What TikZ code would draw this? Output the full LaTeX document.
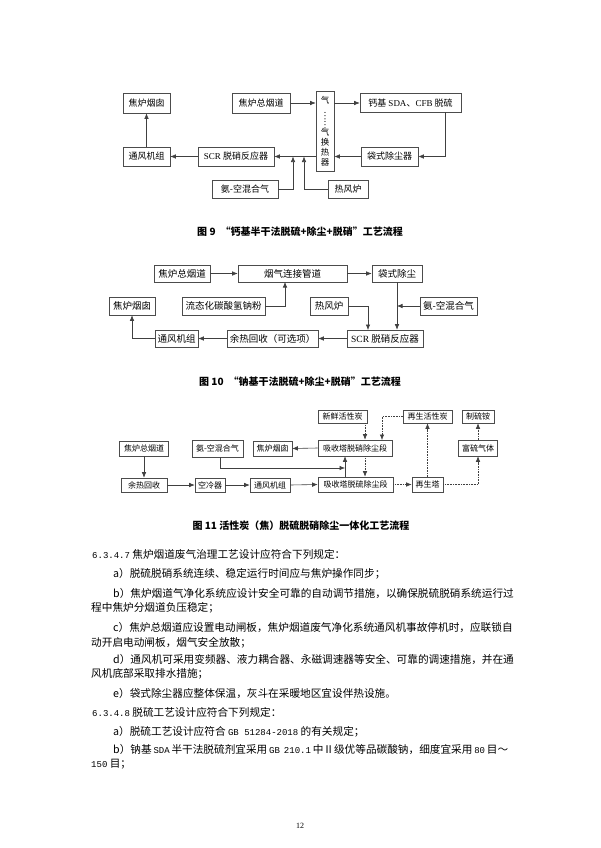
\documentclass[tikz,border=0pt]{standalone}
\usepackage{fontspec}
\usepackage{graphicx}
\setmainfont{Liberation Serif}
\newfontfamily\cjk{Noto Sans CJK SC}
\newfontfamily\lat{Liberation Serif}
\newfontfamily\mono{Liberation Mono}
\usetikzlibrary{arrows.meta}
\newcommand{\mn}[1]{{\mono\fontsize{9}{10}\selectfont #1}}
\tikzset{
  box/.style={draw=black!70, line width=0.6pt, fill=white, inner sep=0pt, font=\cjk\fontsize{9}{10}\selectfont},
  mbox/.style={box, font=\cjk\fontsize{9.5}{10}\selectfont},
  sbox/.style={box, font=\cjk\fontsize{8}{9}\selectfont},
  arr/.style={draw=black!75, line width=0.6pt, -{Latex[length=5.5pt,width=4.5pt]}},
  darr/.style={arr, densely dotted},
  body/.style={anchor=base west, inner sep=0pt, font=\cjk\fontsize{10.65}{12}\selectfont},
  figcap/.style={inner sep=0pt, font=\cjk\bfseries\fontsize{10}{12}\selectfont},
}
\begin{document}
\begin{tikzpicture}[x=1pt,y=-1pt]
\fill[white] (0,0) rectangle (600,848);
\path[use as bounding box] (0,0) rectangle (600,848);

% ---------------- Figure 9 ----------------
\node[box, minimum width=47, minimum height=20] (chim1) at (146.5,103) {焦炉烟囱};
\node[box, minimum width=58, minimum height=20] (flue1) at (261,103) {焦炉总烟道};
\node[box, minimum width=18, minimum height=80, align=center, font=\cjk\fontsize{8.5}{10}\selectfont] (hx) at (325,131)
  {气\\[-2pt]\rotatebox{-90}{……}\\[-2pt]气\\换\\热\\器};
\node[box, minimum width=101, minimum height=19] (sda) at (410.5,103) {钙基 {\lat SDA}、{\lat CFB} 脱硫};
\node[box, minimum width=47, minimum height=19] (fan1) at (146.5,156.5) {通风机组};
\node[box, minimum width=76, minimum height=19] (scr1) at (236,156.5) {{\lat SCR} 脱硝反应器};
\node[box, minimum width=57, minimum height=19] (bag1) at (389.5,156.5) {袋式除尘器};
\node[box, minimum width=66, minimum height=18] (nh1) at (245,189) {氨-空混合气};
\node[box, minimum width=40, minimum height=18] (hot1) at (348,189) {热风炉};
\coordinate (j1) at (293,156.5);
\coordinate (j2) at (304,156.5);
\coordinate (s1) at (445,112.5);

\draw[arr] (flue1.east) -- (flue1.east -| hx.west);
\draw[arr] (sda.west -| hx.east) -- (sda.west);
\draw[arr] (s1) |- (bag1.east);
\draw[arr] (bag1.west) -- (bag1.west -| hx.east);
\draw[arr] (scr1.east -| hx.west) -- (scr1.east);
\draw[arr] (nh1.east) -| (j1);
\draw[arr] (hot1.west) -| (j2);
\draw[arr] (scr1.west) -- (fan1.east);
\draw[arr] (fan1.north) -- (chim1.south);

\node[figcap] (cap9) at (300,232) {图 9\enspace “钙基半干法脱硫+除尘+脱硝”工艺流程};

% ---------------- Figure 10 ----------------
\node[mbox, minimum width=56, minimum height=17] (flue2) at (182,273.5) {焦炉总烟道};
\node[mbox, minimum width=109, minimum height=17] (pipe2) at (292.5,273.5) {烟气连接管道};
\node[mbox, minimum width=50, minimum height=17] (bag2) at (397,273.5) {袋式除尘};
\node[mbox, minimum width=46, minimum height=18] (chim2) at (132,306) {焦炉烟囱};
\node[mbox, minimum width=83, minimum height=18] (naco) at (223.5,306) {流态化碳酸氢钠粉};
\node[mbox, minimum width=38, minimum height=18] (hot2) at (329,306) {热风炉};
\node[mbox, minimum width=57, minimum height=18] (nh2) at (448.5,306) {氨-空混合气};
\node[mbox, minimum width=43, minimum height=17] (fan2) at (176.5,338.5) {通风机组};
\node[mbox, minimum width=91, minimum height=17] (waste2) at (272.5,338.5) {余热回收（可选项）};
\node[mbox, minimum width=76, minimum height=17] (scr2) at (385,338.5) {{\lat SCR} 脱硝反应器};
\coordinate (k1) at (285,282);
\coordinate (k2) at (368,330);

\draw[arr] (flue2.east) -- (pipe2.west);
\draw[arr] (pipe2.east) -- (bag2.west);
\draw[arr] (naco.east) -| (k1);
\draw[arr] (bag2.south) -- (bag2.south |- scr2.north);
\draw[arr] (nh2.west) -- (nh2.west -| bag2.south);
\draw[arr] (hot2.east) -| (k2);
\draw[arr] (scr2.west) -- (waste2.east);
\draw[arr] (waste2.west) -- (fan2.east);
\draw[arr] (fan2.west) -| (chim2.south);

\node[figcap] (cap10) at (300,382) {图 10\enspace “钠基干法脱硫+除尘+脱硝”工艺流程};

% ---------------- Figure 11 ----------------
\node[sbox, minimum width=49, minimum height=13] (fresh) at (342.5,416.5) {新鲜活性炭};
\node[sbox, minimum width=49, minimum height=13] (regc) at (427.5,416.5) {再生活性炭};
\node[sbox, minimum width=32, minimum height=13] (amm) at (478,416.5) {制硫铵};
\node[sbox, minimum width=49, minimum height=15] (flue3) at (144,448.5) {焦炉总烟道};
\node[sbox, minimum width=51, minimum height=17] (nh3) at (217.5,448.5) {氨-空混合气};
\node[sbox, minimum width=39, minimum height=15] (chim3) at (272.5,448.5) {焦炉烟囱};
\node[sbox, minimum width=74, minimum height=16] (abs1) at (355,448) {吸收塔脱硝除尘段};
\node[sbox, minimum width=39, minimum height=16] (rich) at (478,448) {富硫气体};
\node[sbox, minimum width=46, minimum height=14] (waste3) at (144,485) {余热回收};
\node[sbox, minimum width=30, minimum height=14] (cool) at (210,485) {空冷器};
\node[sbox, minimum width=40, minimum height=14] (fan3) at (270,485) {通风机组};
\node[sbox, minimum width=75, minimum height=15] (abs2) at (355.5,484.5) {吸收塔脱硫除尘段};
\node[sbox, minimum width=31, minimum height=15] (regen) at (427.5,484.5) {再生塔};
\coordinate (m1) at (345,468);
\coordinate (m2) at (382,440);

\draw[arr] (flue3.south) -- (flue3.south |- waste3.north);
\draw[arr] (waste3.east) -- (cool.west);
\draw[arr] (cool.east) -- (fan3.west);
\draw[arr] (fan3.east) -- (abs2.west);
\draw[arr] ([xshift=2.5]nh3.south) |- (m1);
\draw[arr] (abs2.north -| m1) -- (abs1.south -| m1);
\draw[arr] (abs1.west) -- (chim3.east);
\draw[darr] ([xshift=22.5]fresh.south) -- ([xshift=22.5]fresh.south |- abs1.north);
\draw[darr] (regc.west) -| (m2);
\draw[darr] ([xshift=10]abs1.south) -- ([xshift=10]abs1.south |- abs2.north);
\draw[darr] (abs2.east) -- (regen.west);
\draw[darr] (regen.north) -- (regc.south);
\draw[darr] (regen.east) -| (rich.south);
\draw[darr] (rich.north) -- (amm.south);

\node[figcap] (cap11) at (301,526) {图 11 活性炭（焦）脱硫脱硝除尘一体化工艺流程};

% ---------------- Body text ----------------
\node[body] (t1) at (92,558) {\mn{6.3.4.7} 焦炉烟道废气治理工艺设计应符合下列规定：};
\node[body] (t2) at (113,577) {a）脱硫脱硝系统连续、稳定运行时间应与焦炉操作同步；};
\node[body] (t3) at (113,597) {b）焦炉烟道气净化系统应设计安全可靠的自动调节措施，以确保脱硫脱硝系统运行过};
\node[body] (t4) at (91,611) {程中焦炉分烟道负压稳定；};
\node[body] (t5) at (113,631) {c）焦炉总烟道应设置电动闸板，焦炉烟道废气净化系统通风机事故停机时，应联锁自};
\node[body] (t6) at (91,646) {动开启电动闸板，烟气安全放散；};
\node[body] (t7) at (113,663) {d）通风机可采用变频器、液力耦合器、永磁调速器等安全、可靠的调速措施，并在通};
\node[body] (t8) at (91,677) {风机底部采取排水措施；};
\node[body] (t9) at (113,697) {e）袋式除尘器应整体保温，灰斗在采暖地区宜设伴热设施。};
\node[body] (t10) at (92,716) {\mn{6.3.4.8} 脱硫工艺设计应符合下列规定：};
\node[body] (t11) at (113,735) {a）脱硫工艺设计应符合 \mn{GB 51284-2018} 的有关规定；};
\node[body] (t12) at (113,753) {\makebox[395pt][s]{b）钠基 \mn{SDA} 半干法脱硫剂宜采用 \mn{GB 210.1} 中Ⅱ级优等品碳酸钠，细度宜采用 \mn{80} 目～}};
\node[body] (t13) at (91,767) {\mn{150} 目；};

\node[inner sep=0pt, font=\fontsize{8}{9}\selectfont] (pg) at (300,826) {12};
\end{tikzpicture}
\end{document}
